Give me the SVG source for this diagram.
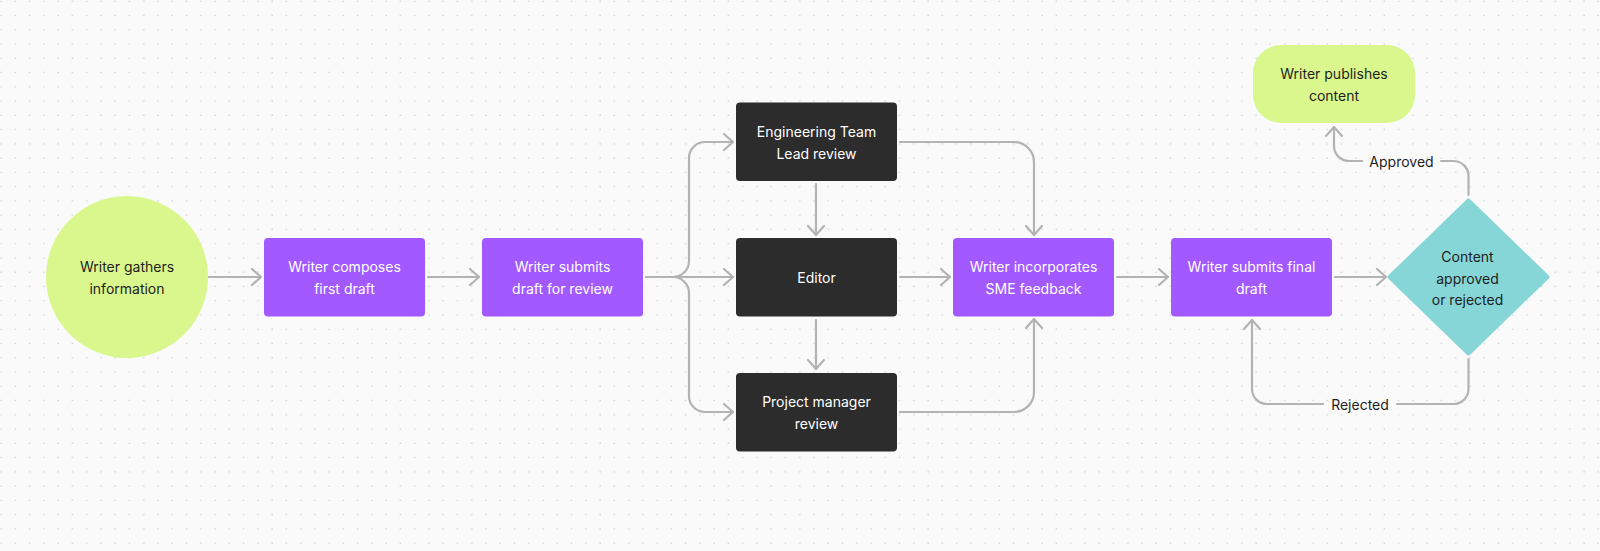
<svg xmlns="http://www.w3.org/2000/svg" width="1600" height="551" viewBox="0 0 1600 551">
  <defs>
    <pattern id="dots" x="0" y="0" width="14.26" height="14.26" patternUnits="userSpaceOnUse">
      <circle cx="1.2" cy="1.2" r="0.8" fill="#cfcfcf"/>
    </pattern>
    <marker id="arr" markerUnits="userSpaceOnUse" markerWidth="24" markerHeight="24" viewBox="-12 -12 24 24" refX="0" refY="0" orient="auto">
      <path d="M-9,-8 L0,0 L-9,8" fill="none" stroke="#b3b3b3" stroke-width="2.2" stroke-linecap="round" stroke-linejoin="round"/>
    </marker>
  </defs>
  <style>
    .bg { fill: #fafafa; }
    .purple { fill: #a259ff; }
    .dark { fill: #2c2c2c; }
    .lime { fill: #d9f78d; }
    .teal { fill: #86d6d8; stroke: #86d6d8; stroke-width: 4; stroke-linejoin: round; }
    .t { font-family: Inter, "Noto Sans", "Liberation Sans", sans-serif; font-size: 14px; font-weight: 400; text-anchor: middle; dominant-baseline: central; }
    .w { fill: #ffffff; }
    .k { fill: #1e1e1e; }
    .c { fill: none; stroke: #b3b3b3; stroke-width: 2.2; stroke-linecap: round; stroke-linejoin: round; }
    .a { marker-end: url(#arr); }
  </style>
  <rect class="bg" x="0" y="0" width="1600" height="551"/>
  <rect x="0" y="0" width="1600" height="551" fill="url(#dots)"/>

  <g id="connectors">
    <path class="c a" d="M208,277 H261"/>
    <path class="c a" d="M428,277 H479"/>
    <path class="c a" d="M646,277 H733"/>
    <path class="c a" d="M673,277 A16,16 0 0 0 689,261 V158 A16,16 0 0 1 705,142 H733"/>
    <path class="c a" d="M673,277 A16,16 0 0 1 689,293 V396 A16,16 0 0 0 705,412 H733"/>
    <path class="c a" d="M816,184 V235"/>
    <path class="c a" d="M816,320 V369"/>
    <path class="c a" d="M900,277 H950"/>
    <path class="c a" d="M900,142 H1014 A20,20 0 0 1 1034,162 V235"/>
    <path class="c a" d="M900,412 H1014 A20,20 0 0 0 1034,392 V319"/>
    <path class="c a" d="M1117,277 H1168"/>
    <path class="c a" d="M1335,277 H1386"/>
    <path class="c" d="M1468.5,195 V176 A15,15 0 0 0 1453.5,161 H1441"/>
    <path class="c a" d="M1362,161 H1349 A15,15 0 0 1 1334,146 V127"/>
    <text class="t k" x="1401.5" y="161">Approved</text>
    <path class="c" d="M1468.5,359 V389 A15,15 0 0 1 1453.5,404 H1397"/>
    <path class="c a" d="M1323,404 H1267 A15,15 0 0 1 1252,389 V320"/>
    <text class="t k" x="1360" y="404">Rejected</text>
  </g>

  <g id="n-gather">
    <circle class="lime" cx="127" cy="277" r="81"/>
    <text class="t k" x="127" y="266.5">Writer gathers</text>
    <text class="t k" x="127" y="288">information</text>
  </g>
  <g id="n-compose">
    <rect class="purple" x="264" y="238" width="161" height="78.5" rx="4"/>
    <text class="t w" x="344.5" y="266.5">Writer composes</text>
    <text class="t w" x="344.5" y="288">first draft</text>
  </g>
  <g id="n-submit">
    <rect class="purple" x="482" y="238" width="161" height="78.5" rx="4"/>
    <text class="t w" x="562.5" y="266.5">Writer submits</text>
    <text class="t w" x="562.5" y="288">draft for review</text>
  </g>
  <g id="n-eng">
    <rect class="dark" x="736" y="102.5" width="161" height="78.5" rx="4"/>
    <text class="t w" x="816.5" y="131.5">Engineering Team</text>
    <text class="t w" x="816.5" y="153">Lead review</text>
  </g>
  <g id="n-editor">
    <rect class="dark" x="736" y="238" width="161" height="78.5" rx="4"/>
    <text class="t w" x="816.5" y="277">Editor</text>
  </g>
  <g id="n-pm">
    <rect class="dark" x="736" y="373" width="161" height="78.5" rx="4"/>
    <text class="t w" x="816.5" y="401.5">Project manager</text>
    <text class="t w" x="816.5" y="423">review</text>
  </g>
  <g id="n-incorporate">
    <rect class="purple" x="953" y="238" width="161" height="78.5" rx="4"/>
    <text class="t w" x="1033.5" y="266.5">Writer incorporates</text>
    <text class="t w" x="1033.5" y="288">SME feedback</text>
  </g>
  <g id="n-final">
    <rect class="purple" x="1171" y="238" width="161" height="78.5" rx="4"/>
    <text class="t w" x="1251.5" y="266.5">Writer submits final</text>
    <text class="t w" x="1251.5" y="288">draft</text>
  </g>
  <g id="n-decision">
    <polygon class="teal" points="1468.5,200.5 1547.5,277 1468.5,353.5 1389.5,277"/>
    <text class="t k" x="1467.5" y="256.5">Content</text>
    <text class="t k" x="1467.5" y="278">approved</text>
    <text class="t k" x="1467.5" y="299.5">or rejected</text>
  </g>
  <g id="n-publish">
    <rect class="lime" x="1253" y="45" width="162" height="78" rx="28"/>
    <text class="t k" x="1334" y="73.5">Writer publishes</text>
    <text class="t k" x="1334" y="95">content</text>
  </g>
</svg>
